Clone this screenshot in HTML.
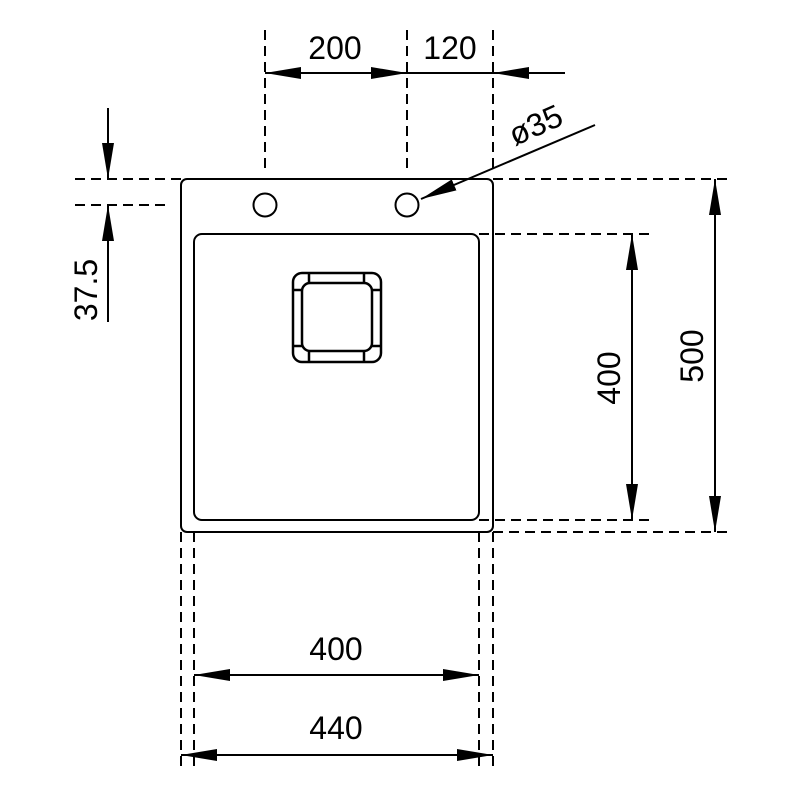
<!DOCTYPE html>
<html><head><style>html,body{margin:0;padding:0;background:#fff}</style></head>
<body>
<svg width="800" height="800" viewBox="0 0 800 800" xmlns="http://www.w3.org/2000/svg" font-family="Liberation Sans, sans-serif">
<defs>
<marker id="a" markerWidth="36" markerHeight="12" refX="36" refY="6" orient="auto" markerUnits="userSpaceOnUse" viewBox="0 0 36 12"><path d="M0,0 L36,6 L0,12z" fill="#000"/></marker>
</defs>
<g stroke="#000" stroke-width="2" fill="none">
<rect x="181" y="179" width="312" height="353" rx="6"/>
<rect x="194" y="234" width="285" height="286" rx="8"/>
<circle cx="265" cy="205" r="11.5"/>
<circle cx="407" cy="205" r="11.5"/>
<rect x="293" y="273" width="88" height="89" rx="9" stroke-width="2.5"/>
<rect x="302" y="283" width="70" height="68" rx="8" stroke-width="2.5"/>
<path d="M309,273v11M364,273v11M309,351v11M364,351v11M293,290h10M371,290h10M293,346h10M371,346h10" stroke-width="2.5"/>
</g>
<g stroke="#000" stroke-width="2" stroke-dasharray="10,6" fill="none">
<path d="M265,30V172M407,30V172M493,30V172"/>
<path d="M75,179H181M75,205H170"/>
<path d="M493,179H730M479,234H650M479,520H650M493,532H730"/>
<path d="M181,532V770M194,532V770M479,532V770M493,532V770"/>
</g>
<g stroke="#000" stroke-width="2" fill="none">
<line x1="336" y1="73" x2="265" y2="73" marker-end="url(#a)"/>
<line x1="336" y1="73" x2="407" y2="73" marker-end="url(#a)"/>
<line x1="407" y1="73" x2="493" y2="73"/>
<line x1="565" y1="73" x2="493" y2="73" marker-end="url(#a)"/>
<line x1="108" y1="108" x2="108" y2="179" marker-end="url(#a)"/>
<line x1="108" y1="322" x2="108" y2="205" marker-end="url(#a)"/>
<line x1="632" y1="380" x2="632" y2="234" marker-end="url(#a)"/>
<line x1="632" y1="380" x2="632" y2="520" marker-end="url(#a)"/>
<line x1="715" y1="360" x2="715" y2="179" marker-end="url(#a)"/>
<line x1="715" y1="360" x2="715" y2="532" marker-end="url(#a)"/>
<line x1="336" y1="675" x2="194" y2="675" marker-end="url(#a)"/>
<line x1="336" y1="675" x2="479" y2="675" marker-end="url(#a)"/>
<line x1="336" y1="755" x2="181" y2="755" marker-end="url(#a)"/>
<line x1="336" y1="755" x2="493" y2="755" marker-end="url(#a)"/>
<line x1="595" y1="125" x2="421" y2="199" marker-end="url(#a)"/>
</g>
<g font-size="32" fill="#000" text-anchor="middle">
<text x="335" y="59">200</text>
<text x="450" y="59">120</text>
<text x="336" y="660">400</text>
<text x="336" y="739">440</text>
<text transform="translate(97,290) rotate(-90)">37.5</text>
<text transform="translate(620,378) rotate(-90)">400</text>
<text transform="translate(703,356) rotate(-90)">500</text>
<text transform="translate(540,135) rotate(-24)">ø35</text>
</g>
</svg>
</body></html>
